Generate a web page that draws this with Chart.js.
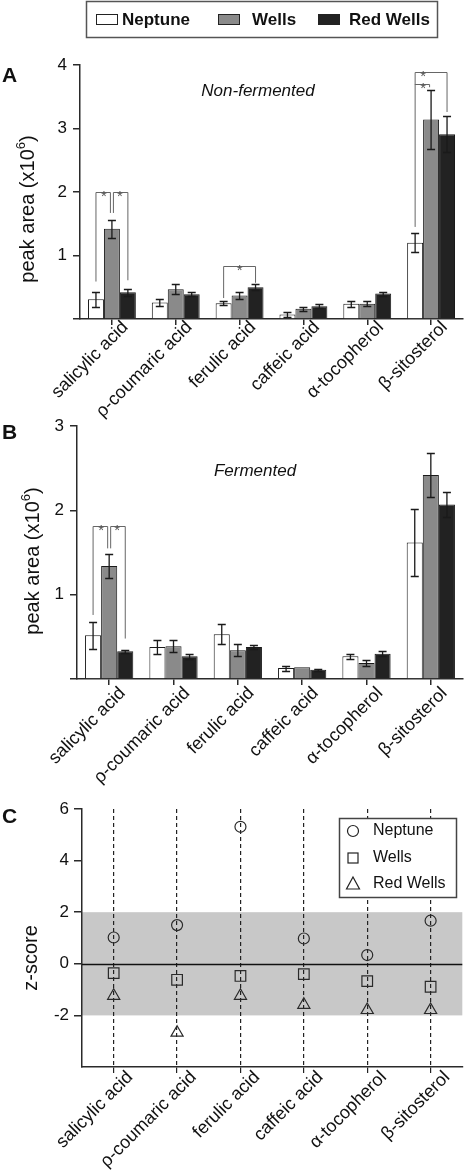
<!DOCTYPE html>
<html>
<head>
<meta charset="utf-8">
<script src="https://cdn.jsdelivr.net/npm/chart.js@4.4.1/dist/chart.umd.min.js"></script>
<style>
  html, body { margin: 0; padding: 0; background: #fff; }
  #wrap { position: relative; width: 471px; height: 1172px; overflow: hidden; }
  #wrap canvas { position: absolute; left: 0; }
</style>
</head>
<body>
<div id="wrap">
  <canvas id="chartA" width="471" height="430" style="top:0"></canvas>
  <canvas id="chartB" width="471" height="380" style="top:410px"></canvas>
  <canvas id="chartC" width="471" height="382" style="top:790px"></canvas>
</div>
<script>
// compounds and groups
const compounds = ['salicylic acid', 'ρ-coumaric acid', 'ferulic acid', 'caffeic acid', 'α-tocopherol', 'β-sitosterol'];
const groups = ['Neptune', 'Wells', 'Red Wells'];

// A: non-fermented, peak area (x10^6) and error
const nfNeptune    = [0.31, 0.26, 0.25, 0.07, 0.24, 1.20];
const nfNeptuneErr = [0.12, 0.05, 0.03, 0.04, 0.05, 0.15];
const nfWells      = [1.42, 0.47, 0.37, 0.16, 0.24, 3.14];
const nfWellsErr   = [0.14, 0.08, 0.05, 0.03, 0.04, 0.47];
const nfRed        = [0.42, 0.39, 0.50, 0.20, 0.40, 2.91];
const nfRedErr     = [0.05, 0.03, 0.05, 0.03, 0.03, 0.28];

// B: fermented
const fNeptune    = [0.52, 0.38, 0.53, 0.13, 0.27, 1.62];
const fNeptuneErr = [0.16, 0.08, 0.12, 0.03, 0.03, 0.40];
const fWells      = [1.34, 0.39, 0.34, 0.14, 0.19, 2.42];
const fWellsErr   = [0.14, 0.07, 0.07, 0.00, 0.03, 0.26];
const fRed        = [0.33, 0.27, 0.38, 0.11, 0.30, 2.07];
const fRedErr     = [0.02, 0.03, 0.02, 0.01, 0.03, 0.15];

// C: z-scores
const zNeptune = [1.02, 1.50, 5.31, 0.98, 0.34, 1.67];
const zWells   = [-0.36, -0.62, -0.47, -0.40, -0.67, -0.89];
const zRed     = [-1.24, -2.67, -1.24, -1.59, -1.79, -1.79];

// significance brackets:
// [compound, left group, right group, top, left leg end, right leg end, star over group pos]
const sigA = [
  [0, 0, 1, 2.00, 0.59, 1.67, 0.5],
  [0, 1, 2, 2.00, 1.67, 0.61, 1.5],
  [2, 0, 2, 0.84, 0.33, 0.57, 1.0],
  [5, 0, 2, 3.89, 1.45, 3.26, 0.5],
  [5, 0, 1, 3.70, 3.70, 3.65, 0.5]
];
const sigB = [
  [0, 0, 1, 1.82, 0.76, 1.55, 0.5],
  [0, 1, 2, 1.82, 1.55, 0.48, 1.5]
];

const FONT = "'Liberation Sans', Arial, Helvetica, sans-serif";
const INK = '#2a2a2a';
const barFill = ['#ffffff', '#8a8a8a', '#222222'];

// error bars + brackets on the bar panels
const barExtras = {
  id: 'barExtras',
  afterDatasetsDraw(chart, args, opts) {
    const ctx = chart.ctx, y = chart.scales.y;
    ctx.save();
    ctx.strokeStyle = '#1a1a1a';
    ctx.lineWidth = 1.3;
    chart.data.datasets.forEach((ds, di) => {
      const meta = chart.getDatasetMeta(di);
      meta.data.forEach((bar, i) => {
        const v = ds.data[i], e = ds.err[i];
        if (!e) return;
        const t = Math.round(y.getPixelForValue(v + e)) + 0.5;
        const b = Math.round(y.getPixelForValue(v - e)) + 0.5;
        ctx.beginPath();
        ctx.moveTo(bar.x, t); ctx.lineTo(bar.x, b);
        ctx.moveTo(bar.x - 4, t); ctx.lineTo(bar.x + 4, t);
        ctx.moveTo(bar.x - 4, b); ctx.lineTo(bar.x + 4, b);
        ctx.stroke();
      });
    });
    ctx.strokeStyle = '#666';
    ctx.lineWidth = 1;
    ctx.fillStyle = '#555';
    ctx.font = '15px ' + FONT;
    ctx.textAlign = 'center';
    (opts.sig || []).forEach(s => {
      const [c, a, b, top, ya, yb, star] = s;
      const x0 = chart.getDatasetMeta(0).data[c].x;
      const step = chart.getDatasetMeta(1).data[c].x - x0;
      const xa = chart.getDatasetMeta(a).data[c].x + (a === 1 ? 1.5 : 0);
      const xb = chart.getDatasetMeta(b).data[c].x - (b === 1 ? 1.5 : 0);
      const pt = Math.round(y.getPixelForValue(top)) + 0.5;
      ctx.beginPath();
      ctx.moveTo(xa, y.getPixelForValue(ya)); ctx.lineTo(xa, pt);
      ctx.lineTo(xb, pt); ctx.lineTo(xb, y.getPixelForValue(yb));
      ctx.stroke();
      ctx.fillText('*', x0 + star * step, pt + 8);
    });
    ctx.restore();
  }
};

// rotated category labels under the x axis
const xLabels = {
  id: 'xLabels',
  afterDraw(chart, args, opts) {
    const ctx = chart.ctx, x = chart.scales.x;
    ctx.save();
    ctx.fillStyle = '#111';
    ctx.font = '18px ' + FONT;
    ctx.textAlign = 'right';
    ctx.textBaseline = 'alphabetic';
    chart.data.labels.forEach((lab, i) => {
      ctx.save();
      ctx.translate(x.getPixelForTick(i) + opts.dx, chart.chartArea.bottom + opts.dy);
      ctx.rotate(-Math.PI / 4);
      ctx.fillText(lab, 0, 0);
      ctx.restore();
    });
    ctx.restore();
  }
};

// panel letter, y title, subtitle
const panelText = {
  id: 'panelText',
  afterDraw(chart, args, opts) {
    const ctx = chart.ctx;
    ctx.save();
    ctx.fillStyle = '#111';
    ctx.font = 'bold 21px ' + FONT;
    ctx.textAlign = 'left';
    ctx.textBaseline = 'alphabetic';
    ctx.fillText(opts.letter, 2, opts.letterY);
    if (opts.sub) {
      ctx.font = 'italic 17px ' + FONT;
      ctx.textAlign = 'center';
      ctx.textBaseline = 'middle';
      ctx.fillText(opts.sub, opts.subX, opts.subY);
    }
    ctx.translate(opts.titleX, opts.titleY);
    ctx.rotate(-Math.PI / 2);
    ctx.font = '20px ' + FONT;
    ctx.textAlign = 'center';
    ctx.textBaseline = 'middle';
    if (opts.sup) {
      const w1 = ctx.measureText(opts.title).width;
      ctx.font = '13px ' + FONT;
      const w2 = ctx.measureText(opts.sup).width;
      ctx.font = '20px ' + FONT;
      const w3 = ctx.measureText(')').width;
      let x0 = -(w1 + w2 + w3) / 2;
      ctx.textAlign = 'left';
      ctx.fillText(opts.title, x0, 0);
      ctx.font = '13px ' + FONT;
      ctx.fillText(opts.sup, x0 + w1, -7);
      ctx.font = '20px ' + FONT;
      ctx.fillText(')', x0 + w1 + w2, 0);
    } else {
      ctx.fillText(opts.title, 0, 0);
    }
    ctx.restore();
  }
};

// top legend on panel A
const topLegend = {
  id: 'topLegend',
  afterDraw(chart) {
    const ctx = chart.ctx;
    ctx.save();
    ctx.strokeStyle = '#555';
    ctx.lineWidth = 1.5;
    ctx.strokeRect(86.5, 1.5, 351, 36);
    const boxX = [96, 218, 318], txtX = [122, 252, 349];
    ctx.font = 'bold 17px ' + FONT;
    ctx.textBaseline = 'middle';
    groups.forEach((g, i) => {
      ctx.fillStyle = barFill[i];
      ctx.fillRect(boxX[i], 14, 22, 11);
      ctx.strokeStyle = '#222';
      ctx.lineWidth = 1;
      ctx.strokeRect(boxX[i] + 0.5, 14.5, 21, 10);
      ctx.fillStyle = '#111';
      ctx.fillText(g, txtX[i], 20);
    });
    ctx.restore();
  }
};

function barOptions(yMax, yW, xH, pad, sig, text, lab) {
  return {
    responsive: false,
    animation: false,
    layout: { padding: pad },
    plugins: { legend: { display: false }, tooltip: { enabled: false }, barExtras: { sig: sig }, panelText: text, xLabels: lab },
    scales: {
      x: {
        afterFit: s => { s.height = xH; },
        grid: { display: true, offset: false, drawOnChartArea: false, drawTicks: true, tickLength: 6, color: INK, lineWidth: 1.5 },
        border: { color: INK, width: 1.5 },
        ticks: { display: false }
      },
      y: {
        min: 0, max: yMax,
        afterFit: s => { s.width = yW; },
        grid: { display: true, drawOnChartArea: false, drawTicks: true, tickLength: 7, color: INK, lineWidth: 1.5 },
        border: { color: INK, width: 1.5 },
        ticks: { stepSize: 1, color: '#111', font: { family: FONT, size: 17 }, padding: 6,
                 callback: v => v === 0 ? '' : v }
      }
    }
  };
}

function barSets(a, ae, b, be, c, ce) {
  return [a, b, c].map((d, i) => ({
    label: groups[i],
    data: d,
    err: [ae, be, ce][i],
    backgroundColor: barFill[i],
    borderColor: '#1a1a1a',
    borderWidth: 1,
    borderSkipped: 'bottom',
    categoryPercentage: 0.75,
    barPercentage: 1.0
  }));
}

new Chart(document.getElementById('chartA'), {
  type: 'bar',
  data: { labels: compounds, datasets: barSets(nfNeptune, nfNeptuneErr, nfWells, nfWellsErr, nfRed, nfRedErr) },
  options: barOptions(4, 80, 111, { top: 65, right: 8, left: 0, bottom: 0 }, sigA,
    { letter: 'A', letterY: 82, sub: 'Non-fermented', subX: 258, subY: 91, title: 'peak area (x10', sup: '6', titleX: 28, titleY: 209 },
    { dx: 17, dy: 9 }),
  plugins: [barExtras, xLabels, panelText, topLegend]
});

new Chart(document.getElementById('chartB'), {
  type: 'bar',
  data: { labels: compounds, datasets: barSets(fNeptune, fNeptuneErr, fWells, fWellsErr, fRed, fRedErr) },
  options: barOptions(3, 77, 111, { top: 13, right: 8, left: 0, bottom: 0 }, sigB,
    { letter: 'B', letterY: 29, sub: 'Fermented', subX: 255, subY: 61, title: 'peak area (x10', sup: '6', titleX: 33, titleY: 151 },
    { dx: 17, dy: 15 }),
  plugins: [barExtras, xLabels, panelText]
});

// band, zero line and legend for panel C
const zExtras = {
  id: 'zExtras',
  beforeDraw(chart) {
    const ctx = chart.ctx, y = chart.scales.y, a = chart.chartArea;
    const t = y.getPixelForValue(2), b = y.getPixelForValue(-2);
    ctx.save();
    ctx.fillStyle = '#c8c8c8';
    ctx.fillRect(a.left, t, a.right - a.left, b - t);
    ctx.restore();
  },
  beforeDatasetsDraw(chart) {
    const ctx = chart.ctx, y = chart.scales.y, a = chart.chartArea;
    const z = Math.round(y.getPixelForValue(0)) + 0.5;
    ctx.save();
    ctx.strokeStyle = '#111';
    ctx.lineWidth = 1.3;
    ctx.beginPath();
    ctx.moveTo(a.left, z); ctx.lineTo(a.right, z);
    ctx.stroke();
    ctx.restore();
  },
  afterDraw(chart) {
    const ctx = chart.ctx;
    ctx.save();
    ctx.fillStyle = '#fff';
    ctx.fillRect(339, 28, 118, 80);
    ctx.strokeStyle = '#444';
    ctx.lineWidth = 1.5;
    ctx.strokeRect(339.5, 28.5, 117, 79);
    const rows = [41, 68, 94];
    ctx.strokeStyle = '#222';
    ctx.lineWidth = 1.2;
    // circle
    ctx.beginPath(); ctx.arc(353, rows[0], 5.5, 0, Math.PI * 2); ctx.stroke();
    // square
    ctx.strokeRect(348, rows[1] - 5, 10, 10);
    // triangle
    ctx.beginPath();
    ctx.moveTo(353, rows[2] - 7); ctx.lineTo(359.5, rows[2] + 5); ctx.lineTo(346.5, rows[2] + 5); ctx.closePath();
    ctx.stroke();
    ctx.fillStyle = '#111';
    ctx.font = '16px ' + FONT;
    ctx.textBaseline = 'middle';
    groups.forEach((g, i) => ctx.fillText(g, 373, rows[i]));
    ctx.restore();
  }
};

const pointStyles = ['circle', 'rect', 'triangle'];
const pointSizes = [5.5, 7.5, 7];

new Chart(document.getElementById('chartC'), {
  type: 'line',
  data: {
    labels: compounds,
    datasets: [zNeptune, zWells, zRed].map((d, i) => ({
      label: groups[i],
      data: d,
      showLine: false,
      pointStyle: pointStyles[i],
      pointRadius: pointSizes[i],
      pointBorderColor: '#2a2a2a',
      pointBackgroundColor: 'rgba(0,0,0,0)',
      pointBorderWidth: 1.2
    }))
  },
  options: {
    responsive: false,
    animation: false,
    layout: { padding: { top: 19, right: 0, left: 0, bottom: 0 } },
    plugins: { legend: { display: false }, tooltip: { enabled: false },
      panelText: { letter: 'C', letterY: 33, title: 'z-score', titleX: 31, titleY: 168 },
      xLabels: { dx: 20, dy: 11 } },
    scales: {
      x: {
        offset: true,
        afterFit: s => { s.height = 105; },
        grid: { display: true, offset: false, drawOnChartArea: true, drawTicks: true, tickLength: 6,
                color: '#222', lineWidth: 1.2, tickBorderDash: [] },
        border: { color: INK, width: 1.5, dash: [4, 3] },
        ticks: { display: false }
      },
      y: {
        min: -4, max: 6,
        afterFit: s => { s.width = 82; },
        grid: { display: true, drawOnChartArea: false, drawTicks: true, tickLength: 8,
                color: c => c.tick && c.tick.value === -4 ? 'rgba(0,0,0,0)' : INK, lineWidth: 1.5 },
        border: { color: INK, width: 1.5 },
        ticks: { stepSize: 2, color: '#111', font: { family: FONT, size: 17 }, padding: 5,
                 callback: v => v === -4 ? '' : v }
      }
    }
  },
  plugins: [zExtras, xLabels, panelText]
});
</script>
</body>
</html>
